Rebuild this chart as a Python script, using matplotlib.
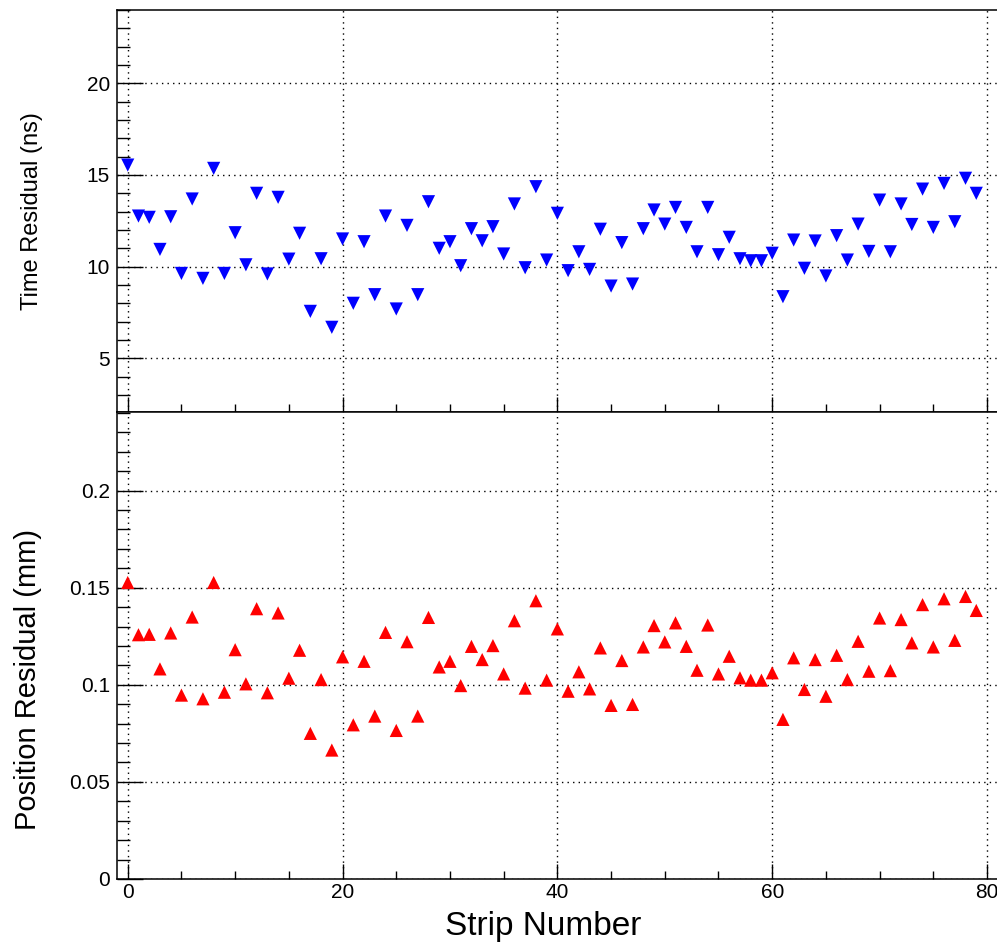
import matplotlib
matplotlib.use("Agg")
import matplotlib.pyplot as plt
from matplotlib.ticker import MultipleLocator

plt.rcParams['font.family'] = ['Liberation Sans', 'DejaVu Sans']

# strip index and fitted residuals per strip
strips = list(range(80))

time_residual = [
    15.54, 12.76, 12.69, 10.94, 12.72, 9.63, 13.69, 9.36, 15.36, 9.63,
    11.85, 10.10, 14.00, 9.60, 13.78, 10.41, 11.82, 7.56, 10.43, 6.69,
    11.51, 8.00, 11.36, 8.47, 12.76, 7.69, 12.25, 8.47, 13.54, 11.00,
    11.36, 10.05, 12.07, 11.41, 12.18, 10.69, 13.42, 9.94, 14.36, 10.36,
    12.91, 9.78, 10.81, 9.85, 12.04, 8.94, 11.31, 9.05, 12.07, 13.09,
    12.32, 13.23, 12.14, 10.81, 13.23, 10.65, 11.60, 10.43, 10.32, 10.32,
    10.73, 8.36, 11.45, 9.91, 11.40, 9.49, 11.69, 10.36, 12.32, 10.83,
    13.63, 10.81, 13.42, 12.30, 14.23, 12.14, 14.54, 12.45, 14.82, 14.00,
]

position_residual = [
    0.1527, 0.1258, 0.1260, 0.1082, 0.1267, 0.0947, 0.1349, 0.0928, 0.1527, 0.0962,
    0.1181, 0.1005, 0.1392, 0.0959, 0.1370, 0.1034, 0.1178, 0.0750, 0.1027, 0.0664,
    0.1144, 0.0794, 0.1121, 0.0839, 0.1270, 0.0765, 0.1222, 0.0839, 0.1347, 0.1092,
    0.1121, 0.0996, 0.1198, 0.1130, 0.1202, 0.1056, 0.1330, 0.0983, 0.1433, 0.1024,
    0.1288, 0.0967, 0.1067, 0.0979, 0.1190, 0.0894, 0.1125, 0.0899, 0.1195, 0.1305,
    0.1221, 0.1319, 0.1198, 0.1075, 0.1308, 0.1056, 0.1147, 0.1036, 0.1024, 0.1024,
    0.1062, 0.0822, 0.1139, 0.0976, 0.1130, 0.0941, 0.1152, 0.1027, 0.1224, 0.1070,
    0.1344, 0.1073, 0.1336, 0.1216, 0.1413, 0.1195, 0.1443, 0.1229, 0.1455, 0.1383,
]

W, H = 997, 944
fig = plt.figure(figsize=(W / 100, H / 100), dpi=100)

left = 117 / W
width = 1.0 - left
ax_top = fig.add_axes([left, 1 - 412 / H, width, (412 - 10) / H])
ax_bot = fig.add_axes([left, 1 - 879 / H, width, (879 - 412) / H])

for ax in (ax_top, ax_bot):
    ax.set_xlim(-1.0, 80.93)
    ax.xaxis.set_major_locator(MultipleLocator(20))
    ax.xaxis.set_minor_locator(MultipleLocator(5))
    ax.grid(True, which='major', color='black', linestyle=(0, (1, 3)), linewidth=1.0)
    ax.set_axisbelow(True)
    for sp in ax.spines.values():
        sp.set_linewidth(1.1)
    # frame runs off the right edge of the canvas
    ax.spines['right'].set_visible(False)
    ax.tick_params(axis='x', which='major', direction='in', length=11, width=1.0,
                   labelsize=15, pad=3)
    ax.tick_params(axis='x', which='minor', direction='in', length=5.5, width=1.0)
    ax.tick_params(axis='y', which='major', direction='in', length=19, width=1.0,
                   labelsize=15, pad=5)
    ax.tick_params(axis='y', which='minor', direction='in', length=9.5, width=1.0)

# time residuals
ax_top.scatter(strips, time_residual, marker='v', s=90, color='#0000ff',
               edgecolors='none', zorder=3, clip_on=False)
ax_top.set_ylim(2.07, 24.0)
ax_top.yaxis.set_major_locator(MultipleLocator(5))
ax_top.yaxis.set_minor_locator(MultipleLocator(1))
ax_top.tick_params(axis='x', labelbottom=False)

# position residuals
ax_bot.scatter(strips, position_residual, marker='^', s=90, color='#ff0000',
               edgecolors='none', zorder=3, clip_on=False)
ax_bot.set_ylim(0, 0.2405)
ax_bot.yaxis.set_minor_locator(MultipleLocator(0.01))
ax_bot.set_yticks([0, 0.05, 0.1, 0.15, 0.2])
ax_bot.set_yticklabels(['0', '0.05', '0.1', '0.15', '0.2'])

fig.text(32 / W, 1 - 211 / H, 'Time Residual (ns)', rotation=90,
         ha='center', va='center', fontsize=17)
fig.text(28 / W, 1 - 680 / H, 'Position Residual (mm)', rotation=90,
         ha='center', va='center', fontsize=21)
fig.text(543 / W, 1 - 926 / H, 'Strip Number', ha='center', va='center',
         fontsize=24)

fig.savefig('out.png', dpi=100)
